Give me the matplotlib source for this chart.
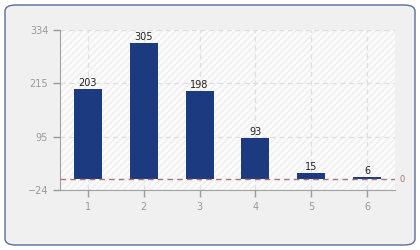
import matplotlib
matplotlib.use('Agg')
import matplotlib.pyplot as plt
from matplotlib.patches import FancyBboxPatch, Rectangle

categories = [1, 2, 3, 4, 5, 6]
values = [203, 305, 198, 93, 15, 6]
y_ticks = [-24, 95, 215, 334]

fig = plt.figure(figsize=(4.2, 2.5), dpi=100)
fig.patch.set_facecolor('white')

# rounded panel behind the chart
panel = FancyBboxPatch((5 / 420, 5 / 250), 410 / 420, 240 / 250,
                       boxstyle='round,pad=0,rounding_size=0.025',
                       transform=fig.transFigure, facecolor='#f0f0f0',
                       edgecolor='#5a6c9c', linewidth=1.0, zorder=-10)
fig.patches.append(panel)

ax = fig.add_axes([60 / 420, 60 / 250, 335 / 420, 160 / 250], zorder=5)
ax.set_facecolor('#fbfbfb')
ax.add_patch(Rectangle((0, 0), 1, 1, transform=ax.transAxes, facecolor='none',
                       edgecolor='#eeeeee', hatch='/////', linewidth=0, zorder=0))

ax.set_xlim(0.5, 6.5)
ax.set_ylim(-24, 334)

ax.grid(True, color='#dedede', linestyle=(0, (4, 3)), linewidth=0.9, zorder=1)
ax.set_axisbelow(True)

bars = ax.bar(categories, values, width=0.5, color='#1b3a80', zorder=3)
for x, v in zip(categories, values):
    ax.text(x, v + 2, str(v), ha='center', va='bottom', fontsize=7,
            color='#222222', zorder=4)

ax.axhline(0, color='#b07070', linestyle=(0, (4, 3)), linewidth=1.0, zorder=4)
ax.text(6.58, 0, '0', color='#b07070', fontsize=6, va='center', ha='left',
        clip_on=False)

ax.set_xticks(categories)
ax.set_yticks(y_ticks)
ax.tick_params(axis='both', colors='#999999', labelcolor='#999999', labelsize=7,
               length=5, width=1)
for side in ['top', 'right']:
    ax.spines[side].set_visible(False)
for side in ['left', 'bottom']:
    ax.spines[side].set_color('#a0a0a0')

fig.savefig('out.png', dpi=100, facecolor=fig.get_facecolor())
